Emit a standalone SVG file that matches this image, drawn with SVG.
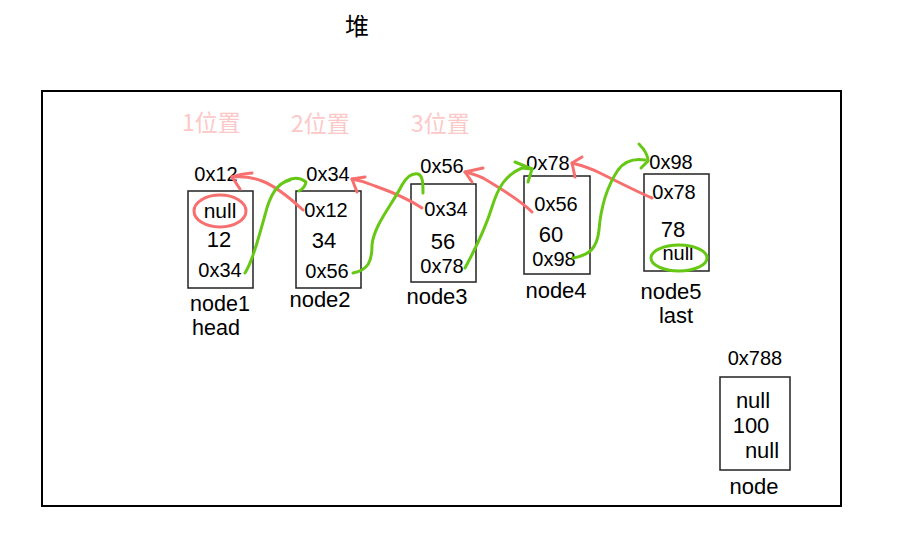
<svg xmlns="http://www.w3.org/2000/svg" width="918" height="553" viewBox="0 0 918 553">
<style>
text{font-family:"Liberation Sans",Arial,sans-serif;fill:#000;text-anchor:middle}
.a{font-size:20px}
.v{font-size:22px}
.l{font-size:22px}
.box{fill:#fff;stroke:#222;stroke-width:1.5}
.pos{font-family:"Noto Sans CJK SC","Liberation Sans",sans-serif;font-size:23px;fill:#fdc8c8;text-anchor:start}
.red{fill:none;stroke:#f86f6f;stroke-width:3;stroke-linecap:round;stroke-linejoin:round}
.green{fill:none;stroke:#66c814;stroke-width:3;stroke-linecap:round;stroke-linejoin:round}
</style>
<rect width="918" height="553" fill="#fff"/>
<text x="357" y="35" style="font-family:'Noto Sans CJK SC',sans-serif;font-size:24px">堆</text>
<rect id="heap" x="42" y="91" width="799" height="415" fill="none" stroke="#000" stroke-width="2"/>
<text class="pos" x="182" y="131">1位置</text>
<text class="pos" x="291" y="132">2位置</text>
<text class="pos" x="411" y="132">3位置</text>
<g id="node1">
<rect class="box" x="188" y="191" width="65" height="97"/>
<text class="a" x="216" y="181">0x12</text>
<text class="v" x="220" y="218" style="font-size:21px">null</text>
<text class="v" x="219" y="247">12</text>
<text class="a" x="220" y="277">0x34</text>
<text class="l" x="220" y="311" style="font-size:21.5px">node1</text>
<text class="l" x="216" y="335" style="font-size:21.5px">head</text>
</g>
<g id="node2">
<rect class="box" x="296" y="191" width="65" height="97"/>
<text class="a" x="328" y="181">0x34</text>
<text class="a" x="326" y="217">0x12</text>
<text class="v" x="324" y="248">34</text>
<text class="a" x="327" y="278">0x56</text>
<text class="l" x="320" y="307">node2</text>
</g>
<g id="node3">
<rect class="box" x="411" y="184" width="65" height="98"/>
<text class="a" x="442" y="173">0x56</text>
<text class="a" x="446" y="216">0x34</text>
<text class="v" x="443" y="249">56</text>
<text class="a" x="442" y="273">0x78</text>
<text class="l" x="437" y="304">node3</text>
</g>
<g id="node4">
<rect class="box" x="524" y="176" width="66" height="98"/>
<text class="a" x="548" y="170">0x78</text>
<text class="a" x="556" y="211">0x56</text>
<text class="v" x="551" y="242">60</text>
<text class="a" x="554" y="266">0x98</text>
<text class="l" x="556" y="298">node4</text>
</g>
<g id="node5">
<rect class="box" x="644" y="174" width="65" height="97"/>
<text class="a" x="671" y="169">0x98</text>
<text class="a" x="674" y="199">0x78</text>
<text class="v" x="673" y="237">78</text>
<text class="a" x="678" y="260">null</text>
<text class="l" x="671" y="299">node5</text>
<text class="l" x="676" y="323">last</text>
</g>
<g id="node">
<rect class="box" x="720" y="377" width="70" height="93"/>
<text class="a" x="755" y="365">0x788</text>
<text class="v" x="753" y="408">null</text>
<text class="v" x="751" y="433">100</text>
<text class="v" x="762" y="458">null</text>
<text class="l" x="754" y="494">node</text>
</g>
<g id="connectors">
<ellipse class="red" cx="220" cy="211" rx="26" ry="16"/>
<ellipse class="green" cx="679" cy="258" rx="28" ry="13"/>
<path class="red" d="M303,210 C290,198 275,186 262,181 C252,177 242,176 232,177"/>
<path class="red" d="M252,173 Q240,174 232,177 Q236,183 240,189"/>
<path class="green" d="M245,273 C252,262 258,240 265,215 C270,195 277,183 290,180"/>
<path class="green" d="M286,181 Q297,175 306,182 Q305,188 299,191"/>
<path class="red" d="M422,208 C410,200 392,192 375,186 C366,182 358,180 352,179"/>
<path class="red" d="M365,177 L352,179 L357,192"/>
<path class="green" d="M353,273 C368,270 372,262 372,245 C374,225 392,205 402,185 C406,178 412,173 418,174 C423,176 423,183 423,193"/>
<path class="red" d="M532,212 C520,200 500,188 483,178 C476,175 470,173 465,172"/>
<path class="red" d="M483,168 L465,172 L472,182"/>
<path class="green" d="M465,268 C472,255 485,230 492,207 C498,188 505,175 522,168 L532,169"/>
<path class="green" d="M515,162 L532,169 L528,182"/>
<path class="red" d="M652,198 C640,193 620,183 600,173 C590,168 580,165 572,163"/>
<path class="red" d="M582,157 L572,163 L575,177"/>
<path class="green" d="M573,258 C590,255 597,248 599,230 C601,205 608,185 618,170 C624,162 632,158 645,160"/>
<path class="green" d="M639,144 C645,150 648,155 648,161 L641,168"/>
</g>
</svg>
